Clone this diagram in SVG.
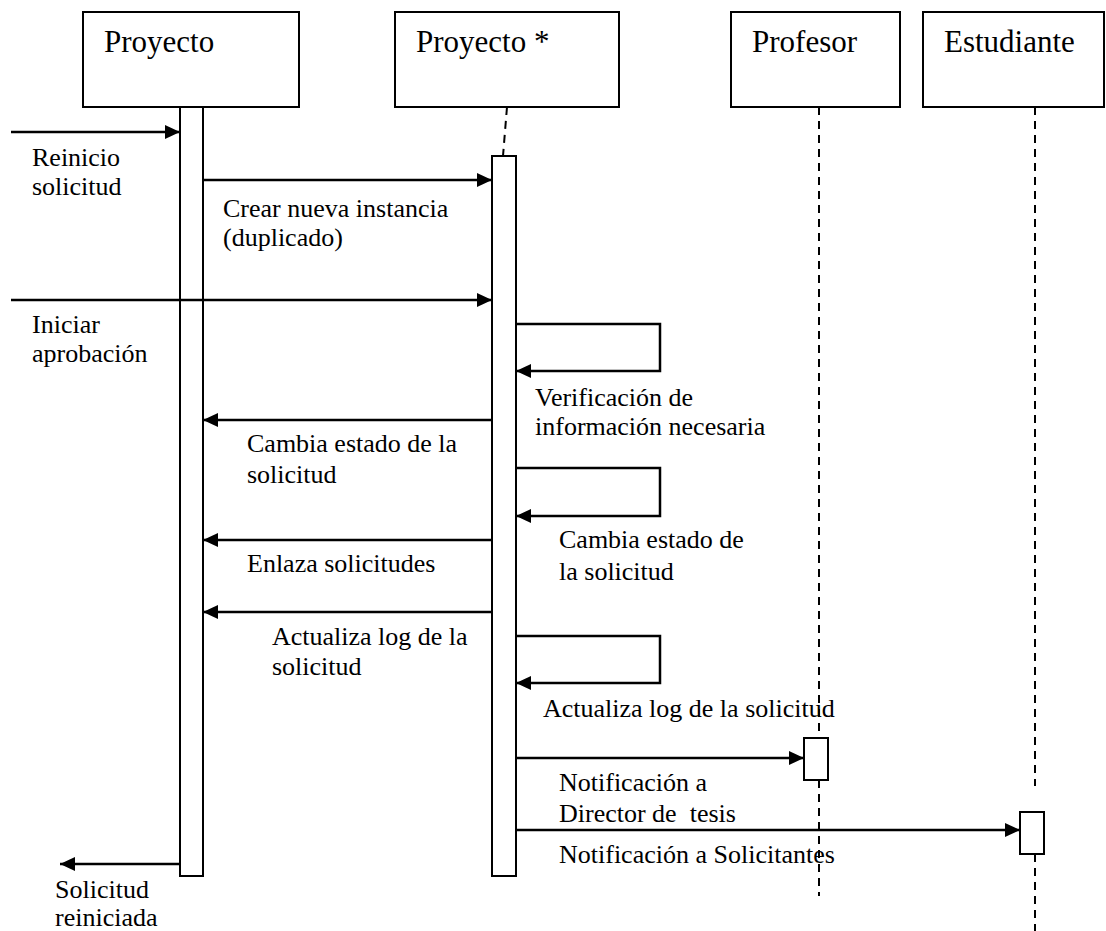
<svg xmlns="http://www.w3.org/2000/svg" width="1106" height="931" viewBox="0 0 1106 931">
<style>
.box{fill:#fff;stroke:#000;stroke-width:2}
.bar{fill:#fff;stroke:#000;stroke-width:2}
.title{font-size:31px}
.lbl{font-size:26px}
.life{fill:none;stroke:#000;stroke-width:2;stroke-dasharray:8 6}
.msg{fill:none;stroke:#000;stroke-width:2.5;marker-end:url(#ah)}
</style>
<defs>
<marker id="ah" markerUnits="userSpaceOnUse" markerWidth="16" markerHeight="16" refX="15" refY="7" orient="auto">
<path d="M0,0 L15,7 L0,14 z" fill="#000"/>
</marker>
</defs>
<rect width="1106" height="931" fill="#fff"/>
<g id="lifelines">
<path class="life" d="M507,107 L503,156"/>
<path class="life" d="M819,107 V738 M819,780 V896"/>
<path class="life" d="M1035,107 V786 M1035,854 V931"/>
</g>
<g font-family="Liberation Serif, Times New Roman, serif" fill="#000">
<g id="proyecto">
<rect class="box" x="83" y="12" width="216" height="95"/>
<text class="title" x="104" y="52">Proyecto</text>
<rect class="bar" x="180" y="107" width="23" height="769"/>
</g>
<g id="proyecto2">
<rect class="box" x="395" y="12" width="224" height="95"/>
<text class="title" x="416" y="52">Proyecto *</text>
<rect class="bar" x="492" y="156" width="24" height="720"/>
</g>
<g id="profesor">
<rect class="box" x="731" y="12" width="169" height="95"/>
<text class="title" x="752" y="52">Profesor</text>
<rect class="bar" x="804" y="738" width="24" height="42"/>
</g>
<g id="estudiante">
<rect class="box" x="923" y="12" width="181" height="95"/>
<text class="title" x="944" y="52">Estudiante</text>
<rect class="bar" x="1020" y="812" width="24" height="42"/>
</g>
</g>
<g id="connectors">
<path class="msg" d="M11,132 H180"/>
<path class="msg" d="M203,180 H492"/>
<path class="msg" d="M11,300 H492"/>
<path class="msg" d="M516,324 H660 V371 H516"/>
<path class="msg" d="M492,420 H203"/>
<path class="msg" d="M516,468 H660 V516 H516"/>
<path class="msg" d="M492,540 H203"/>
<path class="msg" d="M492,612 H203"/>
<path class="msg" d="M516,636 H660 V683 H516"/>
<path class="msg" d="M516,758 H804"/>
<path class="msg" d="M516,830 H1020"/>
<path class="msg" d="M180,864 H60"/>
</g>
<g id="labels" font-family="Liberation Serif, Times New Roman, serif" fill="#000">
<text class="lbl" x="32" y="166">Reinicio</text>
<text class="lbl" x="32" y="195">solicitud</text>
<text class="lbl" x="223" y="217">Crear nueva instancia</text>
<text class="lbl" x="223" y="246">(duplicado)</text>
<text class="lbl" x="32" y="333">Iniciar</text>
<text class="lbl" x="32" y="362">aprobación</text>
<text class="lbl" x="535" y="406">Verificación de</text>
<text class="lbl" x="535" y="435">información necesaria</text>
<text class="lbl" x="247" y="452">Cambia estado de la</text>
<text class="lbl" x="247" y="483">solicitud</text>
<text class="lbl" x="559" y="548">Cambia estado de</text>
<text class="lbl" x="559" y="580">la solicitud</text>
<text class="lbl" x="247" y="572">Enlaza solicitudes</text>
<text class="lbl" x="272" y="645">Actualiza log de la</text>
<text class="lbl" x="272" y="675">solicitud</text>
<text class="lbl" x="543" y="717">Actualiza log de la solicitud</text>
<text class="lbl" x="559" y="791">Notificación a</text>
<text class="lbl" x="559" y="822" xml:space="preserve">Director de  tesis</text>
<text class="lbl" x="559" y="863">Notificación a Solicitantes</text>
<text class="lbl" x="55" y="898">Solicitud</text>
<text class="lbl" x="55" y="926">reiniciada</text>
</g>
</svg>
